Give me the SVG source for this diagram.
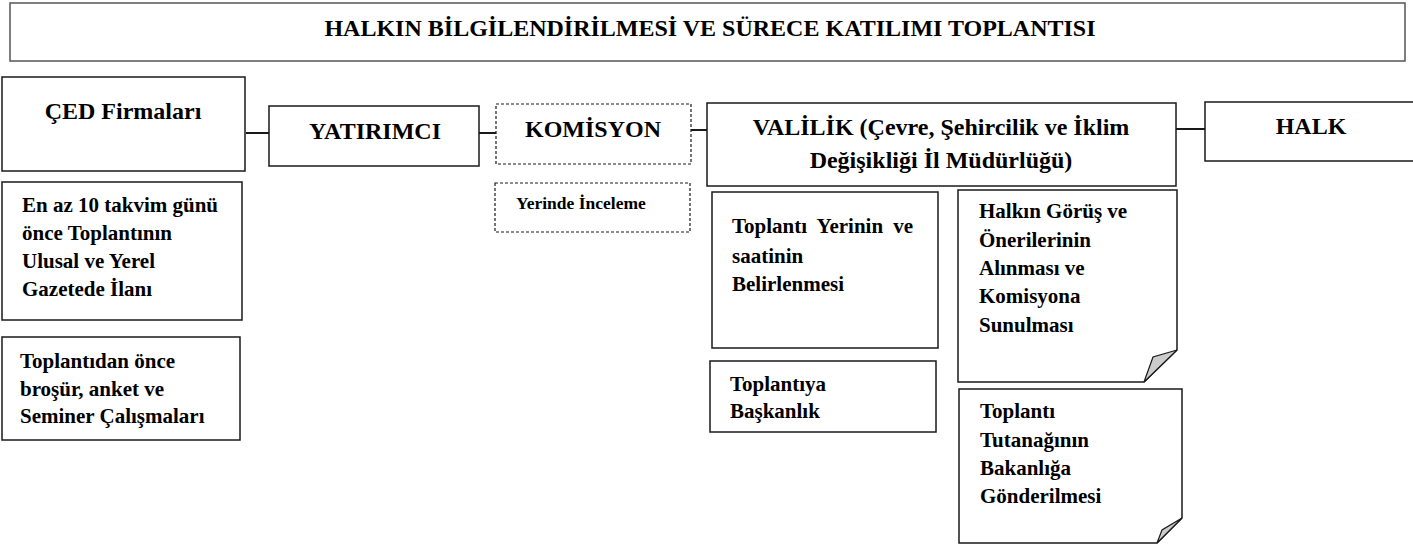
<svg xmlns="http://www.w3.org/2000/svg" width="1413" height="547" viewBox="0 0 1413 547">
<style>
.box{fill:#fff;stroke:#1a1a1a;stroke-width:1.5}
.dash{fill:#fff;stroke:#1a1a1a;stroke-width:1.2;stroke-dasharray:3 2}
.conn{stroke:#1a1a1a;stroke-width:2;fill:none}
.fold{fill:#cccccc;stroke:#1a1a1a;stroke-width:1.2}
text{font-family:"Liberation Serif","Times New Roman",serif;font-weight:bold;fill:#000}
.h{font-size:24px;text-anchor:middle}
.b{font-size:21px}
.s{font-size:17.5px}
</style>
<rect width="1413" height="547" fill="#fff"/>
<g id="title">
<rect class="box" x="10" y="3" width="1395" height="58" style="stroke:#555"/>
<text class="h" x="710" y="36">HALKIN BİLGİLENDİRİLMESİ VE SÜRECE KATILIMI TOPLANTISI</text>
</g>
<g id="connectors">
<line class="conn" x1="246" y1="133" x2="269" y2="133"/>
<line class="conn" x1="479" y1="133" x2="496" y2="133"/>
<line class="conn" x1="691" y1="130" x2="707" y2="130"/>
<line class="conn" x1="1176" y1="129" x2="1205" y2="129"/>
</g>
<g id="ced">
<rect class="box" x="2" y="77" width="243" height="94"/>
<text class="h" x="123" y="119">ÇED Firmaları</text>
</g>
<g id="yatirimci">
<rect class="box" x="269" y="106" width="210" height="60"/>
<text class="h" x="375" y="139">YATIRIMCI</text>
</g>
<g id="komisyon">
<rect class="dash" x="496" y="104" width="195" height="60"/>
<text class="h" x="593" y="137">KOMİSYON</text>
</g>
<g id="valilik">
<rect class="box" x="707" y="103" width="469" height="83"/>
<text class="h" x="941" y="135">VALİLİK (Çevre, Şehircilik ve İklim</text>
<text class="h" x="941" y="168">Değişikliği İl Müdürlüğü)</text>
</g>
<g id="halk">
<rect class="box" x="1205" y="102" width="210" height="59"/>
<text class="h" x="1311" y="134">HALK</text>
</g>
<g id="ilan">
<rect class="box" x="2" y="182" width="240" height="138"/>
<text class="b" x="22" y="212">En az 10 takvim günü</text>
<text class="b" x="22" y="240">önce Toplantının</text>
<text class="b" x="22" y="268">Ulusal ve Yerel</text>
<text class="b" x="22" y="296">Gazetede İlanı</text>
</g>
<g id="brosur">
<rect class="box" x="2" y="337" width="238" height="103"/>
<text class="b" x="20" y="368">Toplantıdan önce</text>
<text class="b" x="20" y="396">broşür, anket ve</text>
<text class="b" x="20" y="423">Seminer Çalışmaları</text>
</g>
<g id="yerinde">
<rect class="dash" x="495" y="183" width="195" height="49"/>
<text class="s" x="516" y="209">Yerinde İnceleme</text>
</g>
<g id="toplanti-yeri">
<rect class="box" x="712" y="192" width="226" height="156"/>
<text class="b" x="732" y="233" word-spacing="5">Toplantı Yerinin ve</text>
<text class="b" x="732" y="263">saatinin</text>
<text class="b" x="732" y="291">Belirlenmesi</text>
</g>
<g id="baskanlik">
<rect class="box" x="710" y="361" width="226" height="71"/>
<text class="b" x="730" y="391">Toplantıya</text>
<text class="b" x="730" y="418">Başkanlık</text>
</g>
<g id="gorus">
<path class="box" d="M958,190 H1177 V350 L1144,382 H958 Z"/>
<path class="fold" d="M1177,350 L1144,382 L1153,357 Z"/>
<text class="b" x="979" y="218">Halkın Görüş ve</text>
<text class="b" x="979" y="247">Önerilerinin</text>
<text class="b" x="979" y="275">Alınması ve</text>
<text class="b" x="979" y="303">Komisyona</text>
<text class="b" x="979" y="332">Sunulması</text>
</g>
<g id="tutanak">
<path class="box" d="M959,389 H1182 V518 L1157,543 H959 Z"/>
<path class="fold" d="M1182,518 L1157,543 L1162,530 Z"/>
<text class="b" x="980" y="418">Toplantı</text>
<text class="b" x="980" y="447">Tutanağının</text>
<text class="b" x="980" y="475">Bakanlığa</text>
<text class="b" x="980" y="503">Gönderilmesi</text>
</g>
</svg>
